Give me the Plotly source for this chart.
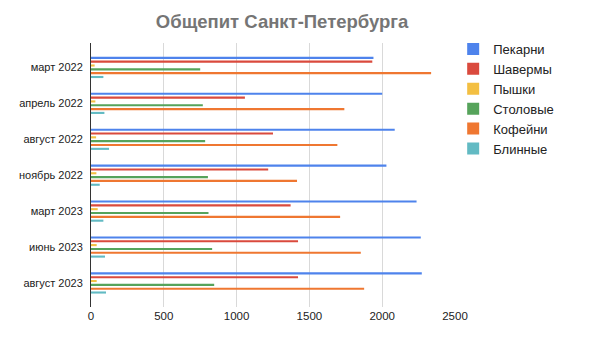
import plotly.graph_objects as go

categories = ["март 2022", "апрель 2022", "август 2022", "ноябрь 2022",
              "март 2023", "июнь 2023", "август 2023"]

series_names = ["Пекарни", "Шавермы", "Пышки", "Столовые", "Кофейни", "Блинные"]

pekarni = [1940, 2000, 2086, 2029, 2236, 2265, 2272]
shavermy = [1932, 1057, 1250, 1217, 1371, 1422, 1422]
pyshki = [25, 30, 35, 37, 46, 39, 39]
stolovye = [750, 768, 784, 803, 807, 832, 846]
kofeini = [2336, 1740, 1692, 1415, 1711, 1853, 1876]
blinnye = [85, 92, 124, 60, 85, 96, 103]

x_ticks = [0, 500, 1000, 1500, 2000, 2500]

colors = ["#4E83EC", "#DA4A3D", "#F3BF42", "#56A35B", "#EF7731", "#62BAC3"]
values = [pekarni, shavermy, pyshki, stolovye, kofeini, blinnye]

fig = go.Figure()
for name, vals, col in zip(series_names, values, colors):
    fig.add_trace(go.Bar(
        y=categories, x=vals, name=name, orientation="h",
        marker=dict(color=col, line=dict(width=0)),
    ))

font_family = "Liberation Sans, Arial, sans-serif"
fig.update_layout(
    width=592, height=348,
    margin=dict(l=83, r=145, t=35, b=49, autoexpand=False),
    paper_bgcolor="white", plot_bgcolor="white",
    barmode="group", bargap=0.36, bargroupgap=0.45,
    font=dict(family=font_family, size=12, color="#222222"),
    title=dict(text="<b>Общепит Санкт-Петербурга</b>", x=0.463, xanchor="center",
               yref="container", y=0.96, yanchor="middle",
               font=dict(family=font_family, size=18.5, color="#757575")),
    legend=dict(x=0.995, xanchor="left", y=1.034, yanchor="top",
                font=dict(size=13, color="#222222"), tracegroupgap=0,
                itemwidth=30, traceorder="normal"),
    xaxis=dict(range=[0, 2500], tickvals=x_ticks, showgrid=True,
               gridcolor="#d9d9d9", gridwidth=1, zeroline=False,
               showline=False, tickfont=dict(size=11.5, color="#222222")),
    yaxis=dict(range=[6.67, -0.68], showline=True, linecolor="#333333",
               linewidth=1, showgrid=False, ticklabelstandoff=5,
               tickfont=dict(size=11, color="#222222")),
)

fig.write_html("out.html")
